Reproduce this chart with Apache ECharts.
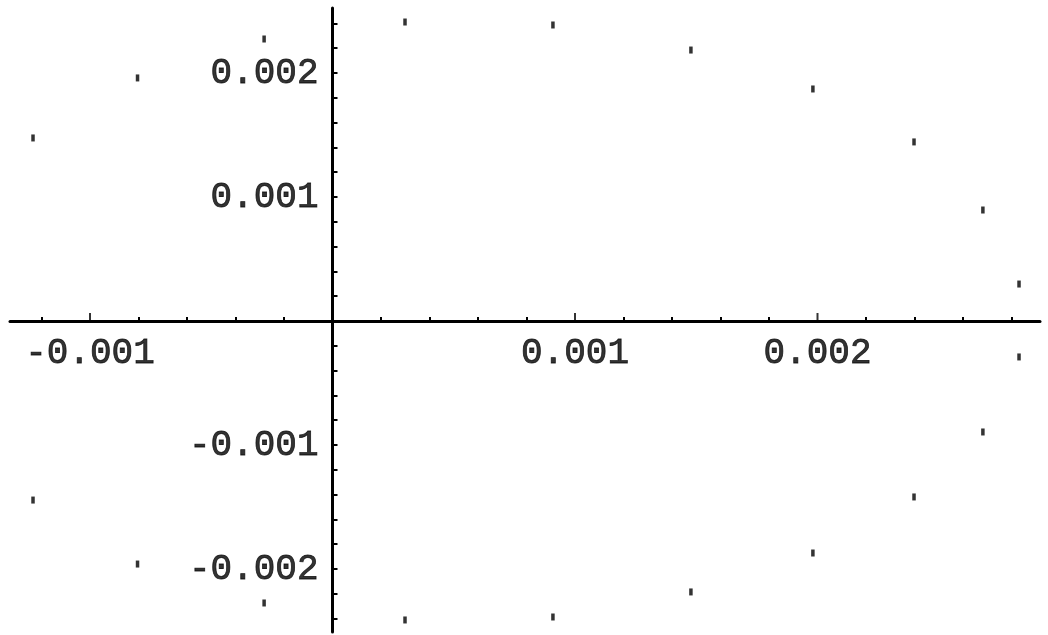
<!DOCTYPE html>
<html>
<head>
<meta charset="utf-8">
<script src="https://cdn.jsdelivr.net/npm/echarts@6/dist/echarts.min.js"></script>
<style>
html,body{margin:0;padding:0;background:#fff;}
#chart{width:1048px;height:635px;}
</style>
</head>
<body>
<div id="chart"></div>
<script>
// Data
const xValues = [-0.001235, -0.000804, -0.000282, 0.000299, 0.000909, 0.001478, 0.001981, 0.002398, 0.002682, 0.002831,
                 0.002831, 0.002682, 0.002398, 0.001981, 0.001478, 0.000909, 0.000299, -0.000282, -0.000804, -0.001235];
const yValues = [0.001476, 0.001960, 0.002274, 0.002411, 0.002387, 0.002185, 0.001871, 0.001444, 0.000895, 0.000298,
                 -0.000290, -0.000895, -0.001419, -0.001871, -0.002185, -0.002387, -0.002411, -0.002274, -0.001960, -0.001444];
const xMajorTicks = [-0.001, 0.001, 0.002];
const xMinorTicks = [-0.0012, -0.0008, -0.0006, -0.0004, -0.0002, 0.0002, 0.0004, 0.0006, 0.0008,
                     0.0012, 0.0014, 0.0016, 0.0018, 0.0022, 0.0024, 0.0026, 0.0028];
const xTickLabels = [-0.001, 0.001, 0.002];
const yTicks = [-0.0024, -0.0022, -0.002, -0.0018, -0.0016, -0.0014, -0.0012, -0.001, -0.0008, -0.0006, -0.0004, -0.0002,
                0.0002, 0.0004, 0.0006, 0.0008, 0.001, 0.0012, 0.0014, 0.0016, 0.0018, 0.002, 0.0022, 0.0024];
const yTickLabels = [-0.002, -0.001, 0.001, 0.002];
const xRange = [-0.0013299, 0.0029175];
const yRange = [-0.002508, 0.002524];

const points = xValues.map((x, i) => [x, yValues[i]]);
const fmt = v => (v < 0 ? '-' : '') + Math.abs(v).toFixed(3);
const labelFont = {color: '#000', fontFamily: 'Liberation Mono', fontSize: 36, fontWeight: 'normal',
                   textBorderColor: '#000', textBorderWidth: 0.8};
const lineStyle = {color: '#000', width: 3};
const tickStyle = {color: '#000', width: 2};

const chart = echarts.init(document.getElementById('chart'), null, {renderer: 'canvas'});
chart.setOption({
  animation: false,
  backgroundColor: '#fff',
  grid: {left: 10, right: 8, top: 8, bottom: 3, containLabel: false, outerBoundsMode: 'none'},
  xAxis: {
    type: 'value', min: xRange[0], max: xRange[1], position: 'bottom',
    axisLine: {show: true, onZero: true, lineStyle: lineStyle},
    axisTick: {show: true, inside: true, length: 4, customValues: xMinorTicks, lineStyle: tickStyle},
    axisLabel: {show: false},
    splitLine: {show: false}
  },
  yAxis: {
    type: 'value', min: yRange[0], max: yRange[1], position: 'left',
    axisLine: {show: true, onZero: true, lineStyle: lineStyle},
    axisTick: {show: true, inside: true, length: 5, customValues: yTicks, lineStyle: tickStyle},
    axisLabel: {show: false},
    splitLine: {show: false}
  },
  series: [
    {
      // major x ticks (longer)
      type: 'scatter', silent: true,
      data: xMajorTicks.map(v => [v, 0]),
      symbol: 'rect', symbolSize: [2, 8], symbolOffset: [0, -4],
      itemStyle: {color: '#000'}, z: 3
    },
    {
      // x tick labels
      type: 'scatter', silent: true,
      data: xTickLabels.map(v => [v, 0]),
      symbolSize: 0,
      label: {show: true, position: 'bottom', distance: 14, formatter: p => fmt(p.value[0]), ...labelFont}
    },
    {
      // y tick labels
      type: 'scatter', silent: true,
      data: yTickLabels.map(v => [0, v]),
      symbolSize: 0,
      label: {show: true, position: 'left', distance: 14, formatter: p => fmt(p.value[1]), ...labelFont}
    },
    {
      type: 'scatter',
      data: points,
      symbol: 'rect', symbolSize: [3.5, 7],
      itemStyle: {color: '#000'}, z: 4
    }
  ]
});
</script>
</body>
</html>
